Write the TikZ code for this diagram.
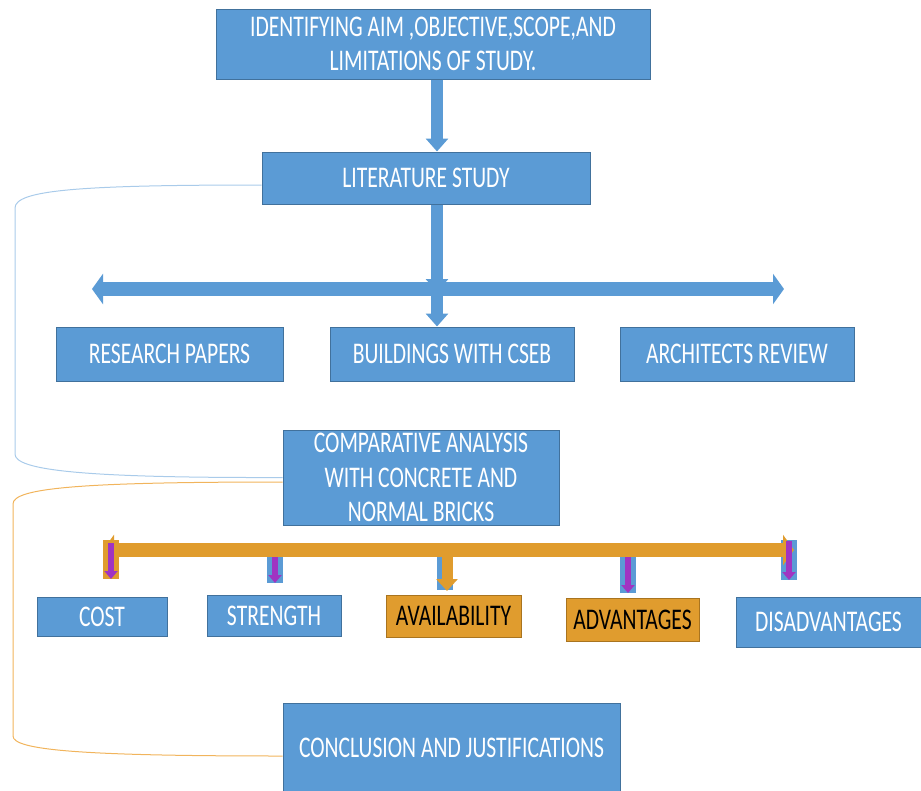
\documentclass[tikz,border=0pt]{standalone}
\usepackage{fontspec}
\setmainfont{Carlito}[FakeStretch=0.72]
\usetikzlibrary{arrows.meta}
\definecolor{boxblue}{HTML}{5B9BD5}
\definecolor{boxline}{HTML}{41719C}
\definecolor{barorange}{HTML}{E09C2E}
\definecolor{orangeline}{HTML}{A9741F}
\definecolor{tipviolet}{HTML}{A034C2}
\definecolor{linkblue}{HTML}{A9CBEA}
\definecolor{linkorange}{HTML}{F1B45C}
\newcommand{\boxfont}{\fontsize{30}{34.5}\selectfont}
\tikzset{
	bluebox/.style={draw=boxline, fill=boxblue, text=white, line width=1pt, inner sep=0pt, align=center, font=\boxfont},
	orangebox/.style={bluebox, draw=orangeline, fill=barorange, text=black},
	fatarrow/.style={draw=boxblue, line width=12pt, -{Triangle[width=22pt,length=13pt]}},
	fatbar/.style={draw=boxblue, line width=14pt, {Triangle[width=30pt,length=11pt]}-{Triangle[width=30pt,length=11pt]}},
	thinarrow/.style={draw=tipviolet, line width=6pt, -{Triangle[width=13pt,length=8pt]}},
	loopline/.style={line width=1pt, rounded corners=4pt}
}
\begin{document}
\begin{tikzpicture}[x=1pt,y=-1pt]
	\useasboundingbox (0,0) rectangle (921,790);
	\node (aim) at (433, 44)	[bluebox, minimum width=434, minimum height=70]	{IDENTIFYING AIM ,OBJECTIVE,SCOPE,AND\\LIMITATIONS OF STUDY.};
	\node (lit) at (426, 178)	[bluebox, minimum width=328, minimum height=52]	{LITERATURE STUDY};
	\node (papers) at (169.5, 354)	[bluebox, minimum width=227, minimum height=54]	{RESEARCH PAPERS};
	\node (cseb) at (452, 354)	[bluebox, minimum width=244, minimum height=54]	{BUILDINGS WITH CSEB};
	\node (arch) at (737, 354)	[bluebox, minimum width=234, minimum height=54]	{ARCHITECTS REVIEW};
	\node (comp) at (421, 477.5)	[bluebox, minimum width=276, minimum height=95]	{COMPARATIVE ANALYSIS\\WITH CONCRETE AND\\NORMAL BRICKS};
	\node (cost) at (102, 616.5)	[bluebox, minimum width=130, minimum height=39]	{COST};
	\node (strength) at (274, 615.5)	[bluebox, minimum width=134, minimum height=41]	{STRENGTH};
	\node (avail) at (453.5, 616)	[orangebox, minimum width=135, minimum height=42]	{AVAILABILITY};
	\node (adv) at (632.5, 619.5)	[orangebox, minimum width=133, minimum height=43]	{ADVANTAGES};
	\node (disadv) at (828.5, 622)	[bluebox, minimum width=185, minimum height=50]	{DISADVANTAGES};
	\node (concl) at (451.5, 748)	[bluebox, minimum width=337, minimum height=90]	{CONCLUSION AND JUSTIFICATIONS};

	% first stage
	\draw[fatarrow] ([xshift=4pt]aim.south) -- ([xshift=11pt]lit.north);
	\coordinate (hub) at (437, 292);
	\coordinate (westtip) at (92, 289);
	\coordinate (easttip) at (784, 289);
	\draw[fatbar] (westtip) -- (easttip);
	\draw[fatarrow] ([xshift=11pt]lit.south) -- (hub);
	\draw[fatarrow] (hub) -- (hub |- cseb.north);

	% comparison bar
	\foreach \n/\x/\top/\bot/\bg in {cost/111/540/579/barorange, strength/275/557/583/boxblue, avail/445/557/590/boxblue, adv/628/557/593/boxblue, disadv/789/540/580/boxblue}
		\fill[\bg] (\x-8,\top) rectangle (\x+8,\bot);
	\coordinate (owest) at (103, 550);
	\coordinate (oeast) at (794, 550);
	\draw[fatbar, draw=barorange] (owest) -- (oeast);
	\foreach \n/\x/\top/\bot in {cost/111/543/579, strength/275/557/583, adv/628/557/593, disadv/789/541/580} {
		\coordinate (tap-\n) at (\x,\top);
		\coordinate (end-\n) at (\x,\bot);
		\draw[thinarrow] (tap-\n) -- (end-\n);
	}
	\coordinate (tap-avail) at (447, 556);
	\coordinate (end-avail) at (447, 591);
	\draw[fatarrow, draw=barorange, line width=11pt, -{Triangle[width=21pt,length=12pt]}] (tap-avail) -- (end-avail);

	% feedback lines
	\draw[loopline, linkblue] ([yshift=-7pt]lit.west) .. controls (80,185) and (15,190) .. (15,212) -- (15,450) .. controls (15,470) and (80,478) .. (comp.west);
	\draw[loopline, linkorange] ([yshift=-4.5pt]comp.west) .. controls (80,482) and (13,488) .. (13,508) -- (13,732) .. controls (13,750) and (80,756) .. ([yshift=-8pt]concl.west);
\end{tikzpicture}
\end{document}
